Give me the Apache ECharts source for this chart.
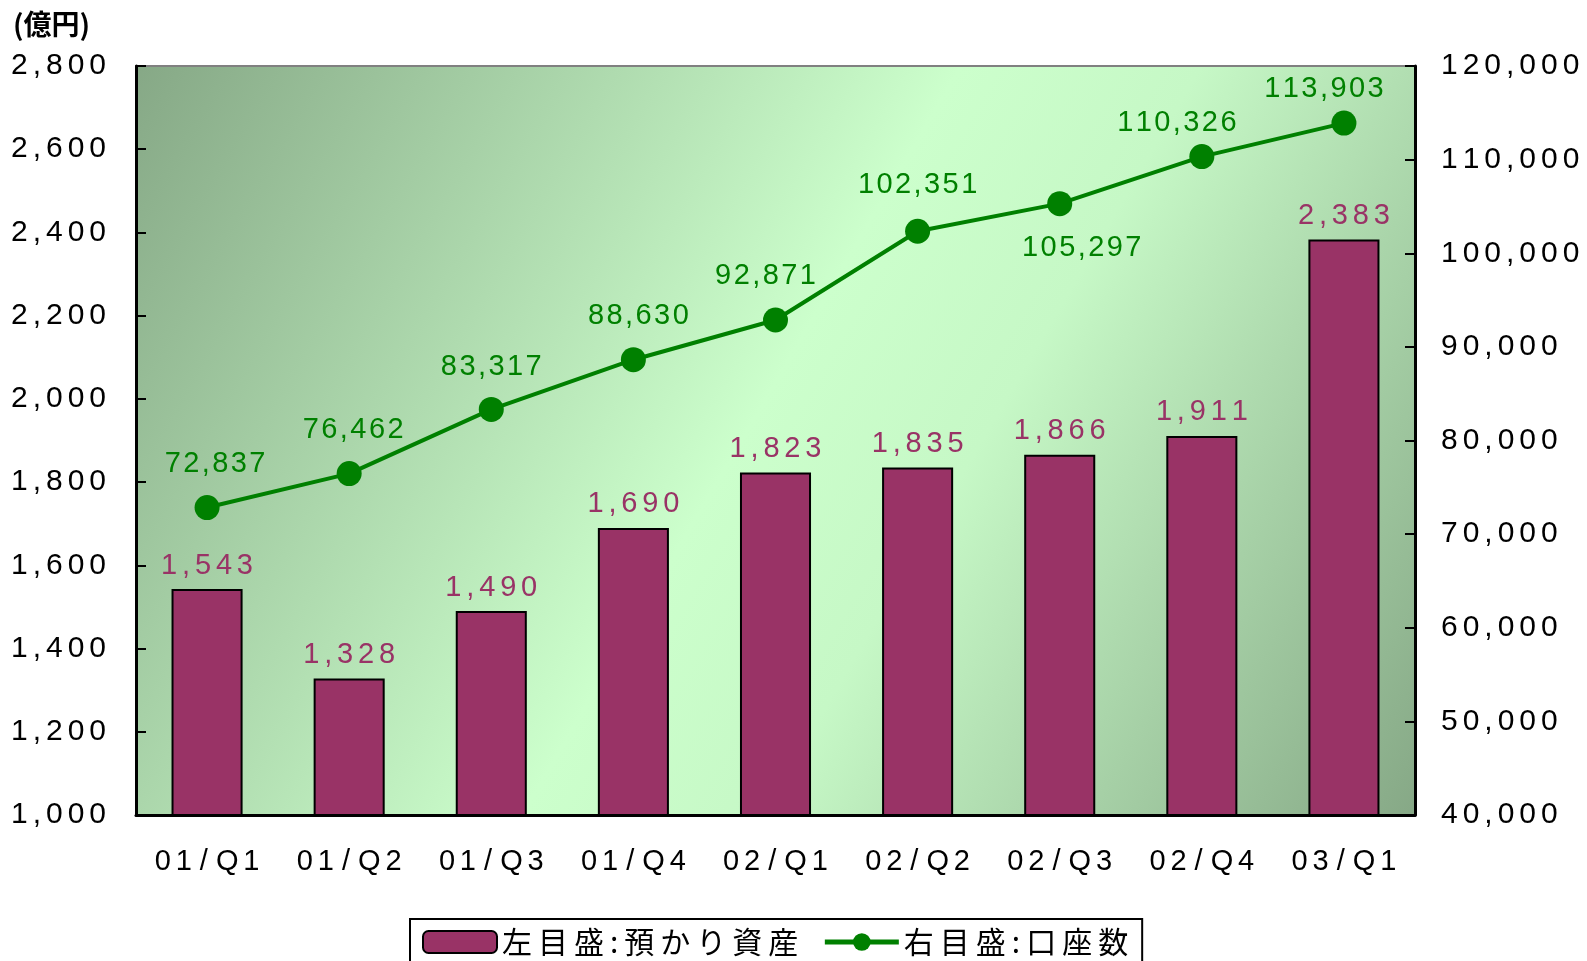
<!DOCTYPE html>
<html>
<head>
<meta charset="utf-8">
<script src="https://cdn.jsdelivr.net/npm/echarts@6/dist/echarts.min.js"></script>
<style>
  html, body { margin: 0; padding: 0; background: #fff; }
  #chart { width: 1587px; height: 961px; }
</style>
</head>
<body>
<div id="chart"></div>
<script>
// データ
const categories = ['01/Q1', '01/Q2', '01/Q3', '01/Q4', '02/Q1', '02/Q2', '02/Q3', '02/Q4', '03/Q1']
const assets = [1543, 1328, 1490, 1690, 1823, 1835, 1866, 1911, 2383]
const accounts = [72837, 76462, 83317, 88630, 92871, 102351, 105297, 110326, 113903]

// 口座数ラベルのずらし量 [x, y]
const labelOffsets = [[8, 0], [4, 0], [0, 2], [5, 0], [-10, 0], [0, -2], [22, 0], [-25, 10], [-20, 10]]
const belowLabels = [6] // 105,297 はマーカーの下

const FONT = '"Liberation Sans", Arial, sans-serif'
const JP = '"Noto Sans CJK JP", sans-serif'

// 文字間を少し空ける
const sp = (s, gap = '\u2006') => String(s).split('').join(gap)
const fmt = v => sp(Number(v).toLocaleString('en-US'))

const chartDom = document.getElementById('chart')
const chart = echarts.init(chartDom)

const lineData = accounts.map((v, i) => {
  const below = belowLabels.includes(i)
  return {
    value: v,
    label: {
      position: below ? 'bottom' : 'top',
      offset: labelOffsets[i]
    }
  }
})

const options = {
  animation: false,
  textStyle: { fontFamily: FONT },
  title: {
    text: '(億円)',
    left: 8,
    top: 5,
    textStyle: { fontFamily: JP, fontSize: 28, fontWeight: 'bold', color: '#000' }
  },
  grid: {
    left: 136, right: 172, top: 66, bottom: 146,
    show: true,
    borderColor: '#808080',
    borderWidth: 2,
    backgroundColor: new echarts.graphic.LinearGradient(0, 0, 1, 1, [
      { offset: 0, color: '#86a886' },
      { offset: 0.48, color: '#ccffcc' },
      { offset: 0.62, color: '#c6f8c6' },
      { offset: 1, color: '#86a886' }
    ])
  },
  legend: {
    bottom: -26,
    left: 410,
    padding: [8, 14, 30, 12],
    borderColor: '#000',
    borderWidth: 2,
    itemGap: 24,
    itemWidth: 74,
    itemHeight: 22,
    formatter: name => sp(name, '\u2009'),
    textStyle: { fontFamily: JP, fontSize: 30, color: '#000' },
    data: [
      { name: '左目盛:預かり資産', itemStyle: { borderColor: '#000', borderWidth: 2 } },
      { name: '右目盛:口座数', lineStyle: { width: 5 } }
    ]
  },
  xAxis: {
    type: 'category',
    data: categories,
    axisLine: { lineStyle: { color: '#000', width: 3 } },
    axisTick: { inside: true, length: 8, lineStyle: { color: '#000', width: 2 } },
    axisLabel: {
      interval: 0,
      color: '#000', fontSize: 29, margin: 32,
      formatter: v => v.split('/').map(s => sp(s)).join(' / ')
    }
  },
  yAxis: [
    {
      type: 'value',
      min: 1000, max: 2800, interval: 200,
      splitLine: { show: false },
      axisLine: { show: true, lineStyle: { color: '#000', width: 3 } },
      axisTick: { show: true, inside: true, length: 10, lineStyle: { color: '#000', width: 2 } },
      axisLabel: { color: '#000', fontSize: 30, margin: 30, formatter: fmt }
    },
    {
      type: 'value',
      min: 40000, max: 120000, interval: 10000,
      splitLine: { show: false },
      axisLine: { show: true, lineStyle: { color: '#000', width: 3 } },
      axisTick: { show: true, inside: true, length: 10, lineStyle: { color: '#000', width: 2 } },
      axisLabel: { color: '#000', fontSize: 30, margin: 26, formatter: fmt }
    }
  ],
  series: [
    {
      name: '左目盛:預かり資産',
      type: 'bar',
      data: assets,
      barWidth: '50%',
      itemStyle: { color: '#993366', borderColor: '#000', borderWidth: 2 },
      label: {
        show: true, position: 'top', distance: 9,
        color: '#993366', fontSize: 29,
        formatter: p => fmt(p.value)
      }
    },
    {
      name: '右目盛:口座数',
      type: 'line',
      yAxisIndex: 1,
      data: lineData,
      symbol: 'circle',
      symbolSize: 25,
      itemStyle: { color: '#008000' },
      lineStyle: { color: '#008000', width: 4 },
      label: {
        show: true, distance: 17,
        color: '#008000', fontSize: 29,
        formatter: p => sp(Number(p.value).toLocaleString('en-US'), '\u200A')
      }
    }
  ]
}

chart.setOption(options, true)
</script>
</body>
</html>
